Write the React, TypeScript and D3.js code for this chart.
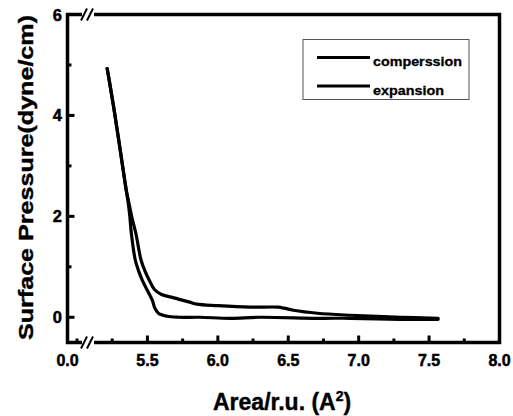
import React from "react";
import * as d3 from "d3";

const compArea = [5.214, 5.229, 5.264, 5.307, 5.35, 5.366, 5.388, 5.418, 5.455, 5.485, 5.514, 5.55, 5.6, 5.67, 5.72, 5.8, 5.85, 6.0, 6.229, 6.43, 6.47, 6.536, 6.707, 6.943, 7.3, 7.564];
const compPressure = [4.93, 4.69, 4.1, 3.31, 2.51, 2.3, 2.0, 1.66, 1.13, 0.9, 0.73, 0.55, 0.45, 0.4, 0.36, 0.3, 0.26, 0.23, 0.2, 0.2, 0.18, 0.14, 0.08, 0.04, 0.0, -0.02];

const expArea = [5.214, 5.229, 5.264, 5.307, 5.35, 5.362, 5.375, 5.386, 5.414, 5.44, 5.464, 5.5, 5.536, 5.55, 5.578, 5.64, 5.72, 5.871, 6.086, 6.3, 6.707, 6.943, 7.3, 7.564];
const expPressure = [4.93, 4.69, 4.1, 3.31, 2.51, 2.3, 2.0, 1.66, 1.13, 0.9, 0.73, 0.53, 0.33, 0.2, 0.08, 0.02, 0.0, 0.0, -0.02, 0.0, -0.02, -0.02, -0.04, -0.04];

const xMajorTicks = [0, 5.5, 6.0, 6.5, 7.0, 7.5, 8.0];
const xMinorTicks = [5.0, 5.25, 5.75, 6.25, 6.75, 7.25, 7.75];
const yMajorTicks = [0, 2, 4, 6];
const yMinorTicks = [1, 3, 5];

const seriesNames = ["comperssion", "expansion"];

export default function App() {
  const x = d3.scaleLinear().domain([0, 4.936, 8]).range([67.5, 68, 499.5]);
  const y = d3.scaleLinear().domain([-0.5, 6]).range([342.5, 14.5]);
  const left = 67.5, right = 499.5, top = 14.5, bottom = 342.5;

  const line = d3
    .line<[number, number]>()
    .x((d) => x(d[0]))
    .y((d) => y(d[1]))
    .curve(d3.curveCatmullRom.alpha(0.5));

  const comp = compArea.map((a, i) => [a, compPressure[i]] as [number, number]);
  const exp = expArea.map((a, i) => [a, expPressure[i]] as [number, number]);

  const font = "Liberation Sans, Arial, sans-serif";
  const breakX = 88;

  const breakMark = (cy: number) => (
    <g>
      <line x1={breakX - 6} y1={cy} x2={breakX + 6} y2={cy} stroke="#fff" strokeWidth={5} />
      <line x1={breakX - 7} y1={cy + 6} x2={breakX - 1} y2={cy - 6} stroke="#000" strokeWidth={2} />
      <line x1={breakX - 1} y1={cy + 6} x2={breakX + 5} y2={cy - 6} stroke="#000" strokeWidth={2} />
    </g>
  );

  const bold = { fontFamily: font, fontWeight: "bold" as const, stroke: "#000", strokeWidth: 0.5 };

  return (
    <svg width={513} height={416} style={{ position: "absolute", left: 0, top: 0, background: "#fff" }}>
      <rect x={0} y={0} width={513} height={416} fill="#fff" />
      {/* curves */}
      <path d={line(exp) || ""} fill="none" stroke="#000" strokeWidth={3.2} strokeLinejoin="round" strokeLinecap="round" />
      <path d={line(comp) || ""} fill="none" stroke="#000" strokeWidth={3.2} strokeLinejoin="round" strokeLinecap="round" />

      {/* frame */}
      <rect x={left} y={top} width={right - left} height={bottom - top} fill="none" stroke="#000" strokeWidth={3.5} />

      {/* y ticks */}
      {yMajorTicks.map((t) => (
        <g key={"ym" + t}>
          <line x1={left} x2={left + 7} y1={y(t)} y2={y(t)} stroke="#000" strokeWidth={3} />
          <text x={62} y={y(t) + 6} textAnchor="end" fontSize={16.5} {...bold}>
            {t}
          </text>
        </g>
      ))}
      {yMinorTicks.map((t) => (
        <line key={"yn" + t} x1={left} x2={left + 4} y1={y(t)} y2={y(t)} stroke="#000" strokeWidth={3} />
      ))}

      {/* x ticks */}
      {xMajorTicks.map((t) => (
        <g key={"xm" + t}>
          {t > 0 && t < 8 && (
            <line x1={x(t)} x2={x(t)} y1={bottom} y2={bottom - 7} stroke="#000" strokeWidth={3} />
          )}
          <text x={x(t)} y={366} textAnchor="middle" fontSize={16} {...bold}>
            {t.toFixed(1)}
          </text>
        </g>
      ))}
      {xMinorTicks.map((t) => (
        <line key={"xn" + t} x1={x(t)} x2={x(t)} y1={bottom} y2={bottom - 4} stroke="#000" strokeWidth={3} />
      ))}

      {breakMark(bottom)}
      {breakMark(top)}

      {/* legend */}
      <rect x={303} y={39.5} width={166} height={60} fill="#fff" stroke="#555" strokeWidth={1} />
      <line x1={317} x2={370} y1={57.5} y2={57.5} stroke="#000" strokeWidth={3} />
      <text x={373} y={66} fontSize={13} textLength={89} lengthAdjust="spacingAndGlyphs" {...bold} strokeWidth={0.3}>
        {seriesNames[0]}
      </text>
      <line x1={317} x2={370} y1={86} y2={86} stroke="#000" strokeWidth={3} />
      <text x={373} y={94.5} fontSize={13} textLength={71} lengthAdjust="spacingAndGlyphs" {...bold} strokeWidth={0.3}>
        {seriesNames[1]}
      </text>

      {/* axis titles */}
      <text x={213} y={410} fontSize={23} {...bold} strokeWidth={0.4}>
        Area/r.u. (A
        <tspan dy={-9} fontSize={14}>2</tspan>
        <tspan dy={9}>)</tspan>
      </text>
      <text
        transform="translate(33,177.5) rotate(-90)"
        textAnchor="middle"
        fontSize={21}
        textLength={325}
        lengthAdjust="spacingAndGlyphs"
        {...bold}
        strokeWidth={0.4}
      >
        Surface Pressure(dyne/cm)
      </text>
    </svg>
  );
}
